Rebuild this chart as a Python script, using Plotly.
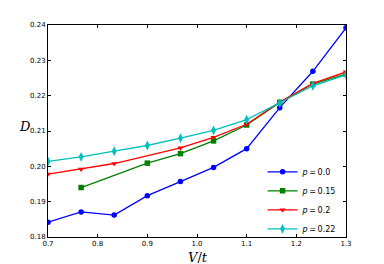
import plotly.graph_objects as go

x_all = [0.7, 0.7667, 0.8333, 0.9, 0.9667, 1.0333, 1.1, 1.1667, 1.2333, 1.3]

x_p00 = x_all
y_p00 = [0.1842, 0.1871, 0.1862, 0.1917, 0.1957, 0.1997, 0.2050, 0.2166, 0.2269, 0.2392]

x_p15 = [0.7667, 0.9, 0.9667, 1.0333, 1.1, 1.1667, 1.2333, 1.3]
y_p15 = [0.1940, 0.2009, 0.2036, 0.2072, 0.2117, 0.2181, 0.2233, 0.2261]

x_p20 = [0.7, 0.7667, 0.8333, 0.9667, 1.0333, 1.1, 1.1667, 1.2333, 1.3]
y_p20 = [0.1978, 0.1992, 0.2008, 0.2052, 0.2082, 0.2119, 0.2182, 0.2235, 0.2267]

x_p22 = x_all
y_p22 = [0.2014, 0.2027, 0.2043, 0.2059, 0.2080, 0.2102, 0.2132, 0.2179, 0.2228, 0.2259]

labels = ["0.0", "0.15", "0.2", "0.22"]
colors = ["#0000ff", "#008000", "#ff0000", "#00bfbf"]
symbols = ["circle", "square", "triangle-down", "diamond-tall"]
sizes = [5.5, 5.5, 5.5, 7]

xtick_vals = [0.7, 0.8, 0.9, 1.0, 1.1, 1.2, 1.3]
ytick_vals = [0.18, 0.19, 0.20, 0.21, 0.22, 0.23, 0.24]

fig = go.Figure()
for xs, ys, lab, c, s, sz in zip([x_p00, x_p15, x_p20, x_p22],
                                 [y_p00, y_p15, y_p20, y_p22],
                                 labels, colors, symbols, sizes):
    fig.add_trace(go.Scatter(
        x=xs, y=ys, mode="lines+markers",
        name=f"<i>p</i>\u2009=\u2009{lab}",
        line=dict(color=c, width=1.3),
        marker=dict(symbol=s, size=sz, color=c, line=dict(width=0)),
    ))

axis_common = dict(
    showgrid=False, zeroline=False, showline=True, linecolor="black",
    linewidth=1, mirror="ticks", ticks="inside", ticklen=3, tickcolor="black",
    tickfont=dict(family="DejaVu Sans", size=7, color="black"),
)

fig.update_layout(
    width=368, height=256,
    margin=dict(l=40, r=30, t=17, b=27),
    paper_bgcolor="white", plot_bgcolor="white",
    showlegend=True,
    legend=dict(x=0.72, y=-0.03, xanchor="left", yanchor="bottom",
                bgcolor="rgba(0,0,0,0)", font=dict(family="DejaVu Sans", size=8, color="black"),
                itemwidth=30, tracegroupgap=0),
    xaxis=dict(range=[0.7, 1.3], tickvals=xtick_vals,
               ticktext=[f"{v:.1f}" for v in xtick_vals], **axis_common),
    yaxis=dict(range=[0.18, 0.24], tickvals=ytick_vals,
               ticktext=[f"{v:.2f}" for v in ytick_vals], **axis_common),
)
fig.add_annotation(text="<i>V</i>/<i>t</i>", xref="paper", yref="paper",
                   x=0.505, y=-0.05, xanchor="center", yanchor="top", showarrow=False,
                   font=dict(family="DejaVu Serif", size=13, color="black"))
fig.add_annotation(text="<i>D</i>", xref="paper", yref="paper",
                   x=-0.05, y=0.52, xanchor="right", yanchor="middle", showarrow=False,
                   font=dict(family="DejaVu Serif", size=13, color="black"))

fig.write_html("out.html")
